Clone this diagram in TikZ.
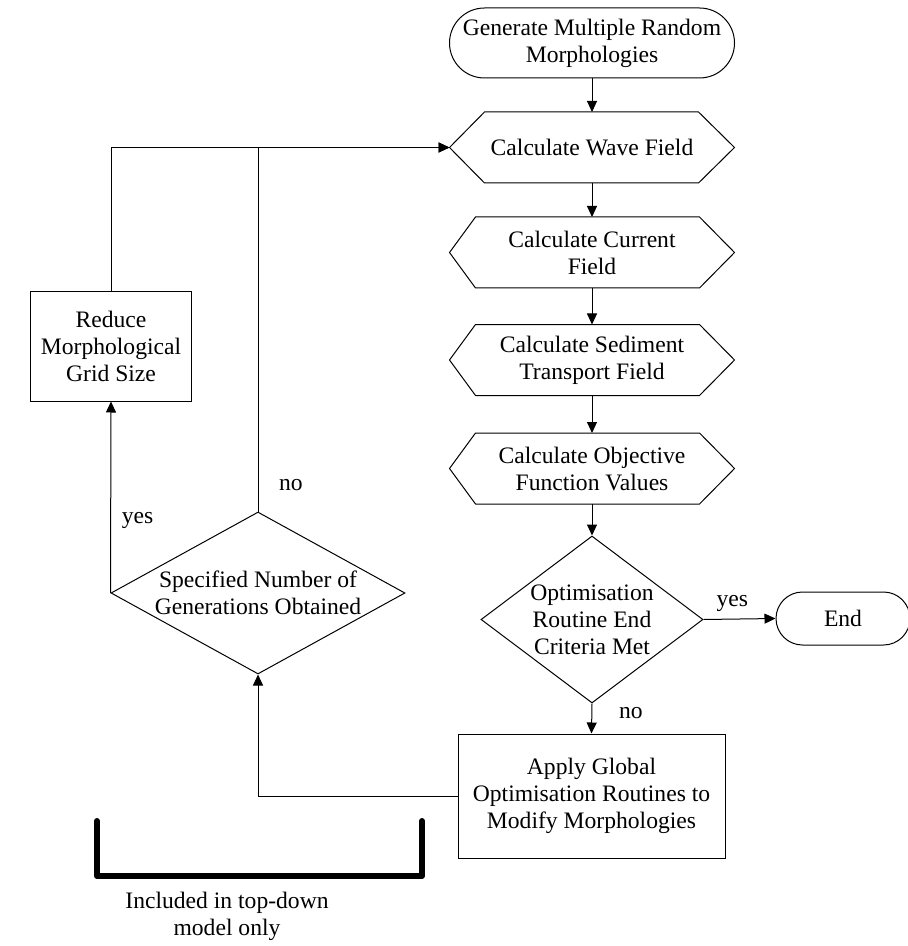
\documentclass[tikz,border=0pt]{standalone}
\usepackage{fontspec}
\setmainfont{Liberation Serif}
\usetikzlibrary{shapes.geometric,arrows.meta,calc}

\begin{document}
\begin{tikzpicture}[x=0.5pt,y=-0.5pt,line width=0.5pt,
  font=\fontsize{11.8}{13.5}\selectfont,
  every node/.style={align=center},
  terminal/.style={draw,rounded corners=17.5pt,minimum width=142.5pt,minimum height=35pt,inner sep=0pt},
  calc/.style={minimum width=142.5pt,minimum height=35.5pt,inner sep=0pt,outer sep=0pt},
  decision/.style={draw,diamond,inner sep=-25pt},
  action/.style={draw,inner sep=0pt},
  flow/.style={-{Triangle[length=5.5pt,width=5pt]}}]

\useasboundingbox (0,0) rectangle (908,946);

% main column
\node[terminal] (start) at (592,43) {Generate Multiple Random\\Morphologies};
\node[calc] (wave) at (592,147.5) {Calculate Wave Field};
\node[calc] (current) at (592,252.5) {Calculate Current\\Field};
\node[calc] (sediment) at (592,360) {Calculate Sediment\\Transport Field};
\node[calc] (objective) at (592,468.5) {Calculate Objective\\Function Values};
\node[decision,minimum width=111pt,minimum height=83.5pt] (opt) at (592,619.5) {Optimisation\\Routine End\\Criteria Met};
\node[terminal,rounded corners=13.25pt,minimum width=67pt,minimum height=26.5pt] (finish) at (843,618.5) {End};
\node[action,minimum width=133.5pt,minimum height=62pt] (apply) at (591.5,796) {Apply Global\\Optimisation Routines to\\Modify Morphologies};

% left loop
\node[decision,minimum width=147pt,minimum height=81pt] (gens) at (258,593) {Specified Number of\\Generations Obtained};
\node[action,minimum width=80.5pt,minimum height=54.5pt] (reduce) at (111,346.5) {Reduce\\Morphological\\Grid Size};
\node (note) at (227,916) {Included in top-down\\model only};

\foreach \n/\lb/\rb in {wave/35/36,current/26/35,sediment/26/35,objective/26/35} {
        \draw (\n.west) -- ($(\n.north west)+(\lb,0)$) -- ($(\n.north east)-(\rb,0)$) -- (\n.east)
              -- ($(\n.south east)-(\rb,0)$) -- ($(\n.south west)+(\lb,0)$) -- cycle;
 }

\foreach \a/\b in {start/wave,wave/current,current/sediment,sediment/objective,objective/opt} {
        \draw[flow] (\a.south) -- (\b.north);
 }

\draw[flow] (opt.east) -- node[above,pos=0.4] (optyes) {yes} (finish.west);
\draw[flow] (opt.south) -- node[right=10pt,pos=0.32] (optno) {no} (apply.north);
\draw[flow] (apply.west) -| (gens.south);
\draw[flow] (gens.west) -- node[right=2pt,pos=0.38] (gensyes) {yes} (reduce.south);
\draw[flow] (gens.north) |- node[right=7pt,pos=0.037] (gensno) {no} (wave.west);
\draw[flow] (reduce.north) |- (wave.west);

\draw[line width=3pt,line cap=round,line join=round] (97,821) -- (97,876) -- (422,876) -- (422,821);
\end{tikzpicture}
\end{document}
